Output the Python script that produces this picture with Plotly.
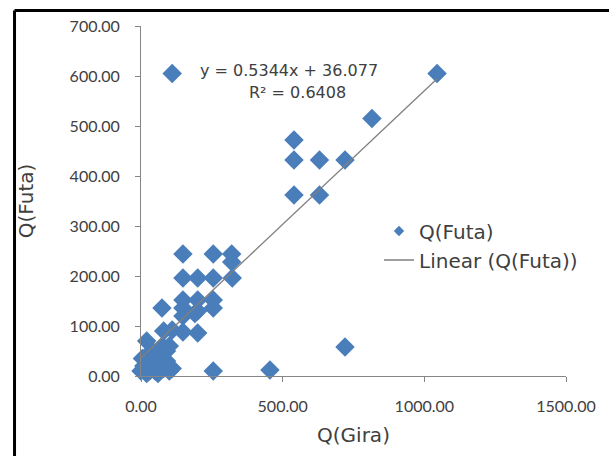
import plotly.graph_objects as go

# Data
q_gira = [110, 1045, 815, 540, 540, 630, 720, 540, 630, 720, 455, 255,
          148, 255, 320, 320,
          148, 200, 255, 322,
          148, 200, 255,
          74, 148, 200, 255,
          148, 190,
          80, 110, 148, 200,
          20, 75, 100,
          0, 10, 20, 30, 40, 50, 60, 70, 80, 90, 100, 110, 60, 20, 40, 5, 90]
q_futa = [605, 605, 515, 472, 432, 432, 432, 362, 362, 58, 12, 10,
          244, 244, 244, 228,
          196, 196, 196, 196,
          152, 152, 152,
          136, 136, 130, 136,
          120, 125,
          90, 92, 88, 86,
          70, 60, 60,
          10, 20, 40, 10, 30, 10, 40, 20, 15, 30, 10, 15, 5, 5, 50, 35, 50]

slope = 0.5344
intercept = 36.077
equation_text = "y = 0.5344x + 36.077"
r2_text = "R² = 0.6408"

x_ticks = [0, 500, 1000, 1500]
y_ticks = [0, 100, 200, 300, 400, 500, 600, 700]

tick_font = "Lato, 'Open Sans', sans-serif"
big_font = "'DejaVu Sans', sans-serif"
text_color = "#404040"
axis_color = "#868686"
marker_color = "#4A7EBB"

fig = go.Figure()

# data markers (legend shown through a small legend-only proxy)
fig.add_trace(go.Scatter(
    x=q_gira, y=q_futa, mode="markers", name="Q(Futa)",
    marker=dict(symbol="diamond", size=15, color=marker_color, line=dict(width=0)),
    cliponaxis=False, showlegend=False,
))
fig.add_trace(go.Scatter(
    x=[None], y=[None], mode="markers", name="Q(Futa)",
    marker=dict(symbol="diamond", size=8, color=marker_color, line=dict(width=0)),
    legendgroup="a",
))

x_min, x_max = min(q_gira), max(q_gira)
fig.add_trace(go.Scatter(
    x=[x_min, x_max], y=[slope * x_min + intercept, slope * x_max + intercept],
    mode="lines", name="Linear (Q(Futa))",
    line=dict(color="#7F7F7F", width=1.3), legendgroup="b",
))

fig.update_layout(
    width=609, height=456,
    margin=dict(l=141, r=43, t=26, b=80),
    paper_bgcolor="white", plot_bgcolor="white",
    font=dict(family=tick_font, size=16, color=text_color),
    showlegend=True,
    legend=dict(x=0.56, y=0.47, xanchor="left", yanchor="top",
                bgcolor="rgba(0,0,0,0)",
                font=dict(family=big_font, size=20, color=text_color),
                tracegroupgap=0, traceorder="grouped"),
    xaxis=dict(range=[0, 1500], tickvals=x_ticks,
               ticktext=[f"{v:.2f}" for v in x_ticks],
               showgrid=False, zeroline=False, showline=True,
               linecolor=axis_color, linewidth=1,
               ticks="outside", ticklen=5, tickcolor=axis_color,
               ticklabelstandoff=11,
               title=dict(text="Q(Gira)", standoff=13,
                          font=dict(family=big_font, size=20, color=text_color))),
    yaxis=dict(range=[0, 700], tickvals=y_ticks,
               ticktext=[f"{v:.2f}" for v in y_ticks],
               showgrid=False, zeroline=False, showline=True,
               linecolor=axis_color, linewidth=1,
               ticks="outside", ticklen=5, tickcolor=axis_color,
               ticklabelstandoff=12,
               title=dict(text="Q(Futa)", standoff=30,
                          font=dict(family=big_font, size=20, color=text_color))),
    annotations=[
        dict(x=524, y=612, xref="x", yref="y", text=equation_text,
             showarrow=False, font=dict(family=big_font, size=16, color=text_color)),
        dict(x=553, y=568, xref="x", yref="y", text=r2_text,
             showarrow=False, font=dict(family=big_font, size=16, color=text_color)),
    ],
    shapes=[
        dict(type="line", xref="paper", yref="paper",
             x0=-0.2976, x1=-0.2976, y0=1.044, y1=-0.4,
             line=dict(color="black", width=3)),
        dict(type="line", xref="paper", yref="paper",
             x0=-0.2976, x1=1.2, y0=1.044, y1=1.044,
             line=dict(color="black", width=3)),
    ],
)

fig.write_html("out.html")
